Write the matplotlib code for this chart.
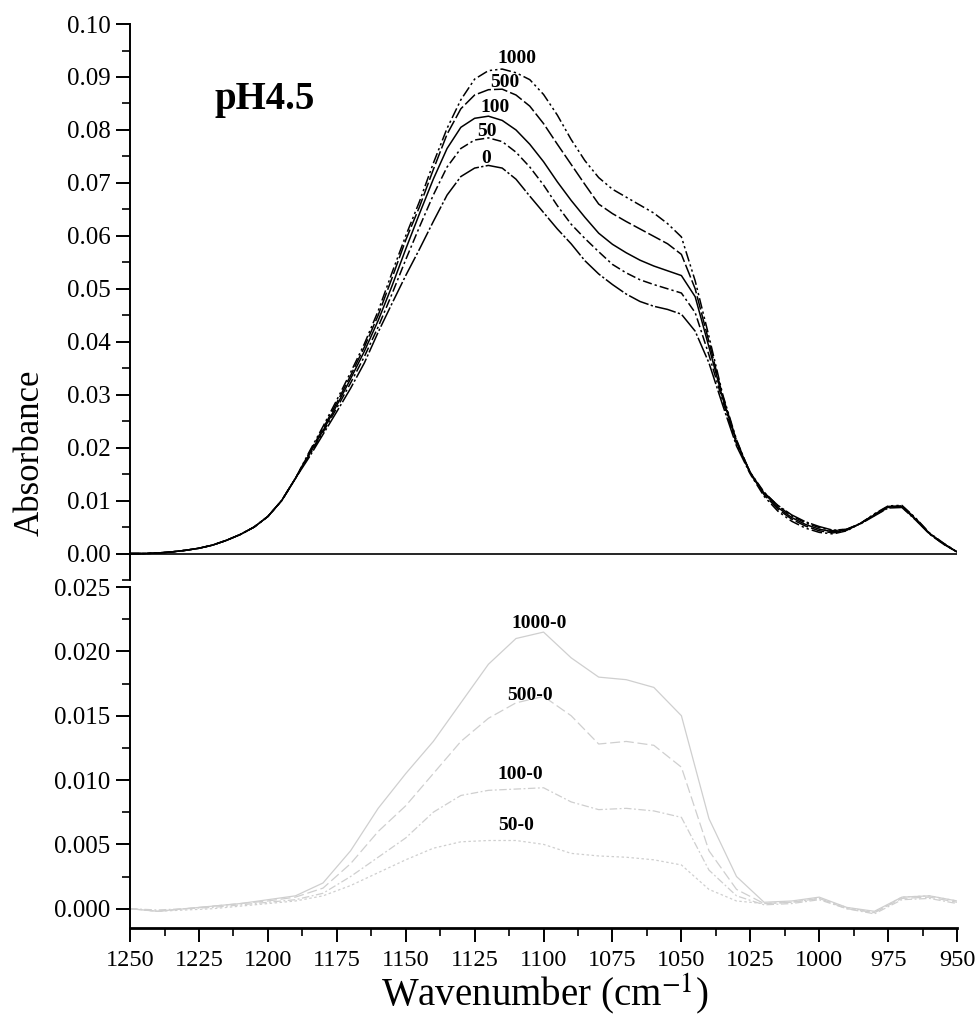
import matplotlib
matplotlib.use("Agg")
import matplotlib.pyplot as plt
from matplotlib.ticker import MultipleLocator, FormatStrFormatter

plt.rcParams['font.family'] = ['Liberation Serif', 'DejaVu Serif']
plt.rcParams['mathtext.fontset'] = 'stix'

# wavenumber grid of the absorbance spectra (cm-1)
wn = [1250, 1245, 1240, 1235, 1230, 1225, 1220, 1215, 1210, 1205, 1200, 1195,
      1190, 1185, 1180, 1175, 1170, 1165, 1160, 1155, 1150, 1145, 1140, 1135,
      1130, 1125, 1120, 1115, 1110, 1105, 1100, 1095, 1090, 1085, 1080, 1075,
      1070, 1065, 1060, 1055, 1050, 1045, 1040, 1035, 1030, 1025, 1020, 1015,
      1010, 1005, 1000, 995, 990, 985, 980, 975, 970, 965, 960, 955, 950]

low_edge = [0.0000, 0.0000, 0.0001, 0.0003, 0.0006, 0.0010, 0.0016, 0.0025,
            0.0036, 0.0050, 0.0070, 0.0100, 0.0142]

abs_1000 = low_edge + [0.0192, 0.0240, 0.0290, 0.0342, 0.0396, 0.0458, 0.0530, 0.0600, 0.0665, 0.0737, 0.0803,
                       0.0857, 0.0896, 0.0912, 0.0915, 0.0908, 0.0895, 0.0867, 0.0828, 0.0782, 0.0742, 0.0710, 0.0688,
                       0.0673, 0.0658, 0.0643, 0.0623, 0.0598, 0.0515, 0.0410, 0.0300, 0.0215, 0.0150, 0.0108, 0.0080,
                       0.0061, 0.0048, 0.0040, 0.0037, 0.0043, 0.0057, 0.0075, 0.0090, 0.0091, 0.0067, 0.0039, 0.0020, 0.0003]
abs_500 = low_edge + [0.0190, 0.0236, 0.0285, 0.0336, 0.0390, 0.0450, 0.0520, 0.0592, 0.0655, 0.0725, 0.0792,
                      0.0840, 0.0866, 0.0876, 0.0877, 0.0866, 0.0845, 0.0812, 0.0773, 0.0735, 0.0697, 0.0660, 0.0642,
                      0.0627, 0.0613, 0.0599, 0.0585, 0.0565, 0.0500, 0.0400, 0.0297, 0.0213, 0.0152, 0.0111, 0.0084,
                      0.0065, 0.0052, 0.0043, 0.0039, 0.0044, 0.0057, 0.0074, 0.0089, 0.0090, 0.0066, 0.0038, 0.0019, 0.0003]
abs_100 = low_edge + [0.0187, 0.0232, 0.0280, 0.0330, 0.0382, 0.0440, 0.0505, 0.0575, 0.0642, 0.0707, 0.0765,
                      0.0805, 0.0822, 0.0826, 0.0818, 0.0800, 0.0773, 0.0740, 0.0702, 0.0667, 0.0635, 0.0605, 0.0584,
                      0.0568, 0.0554, 0.0543, 0.0534, 0.0525, 0.0485, 0.0390, 0.0293, 0.0210, 0.0153, 0.0114, 0.0087,
                      0.0068, 0.0055, 0.0046, 0.0041, 0.0045, 0.0057, 0.0073, 0.0088, 0.0089, 0.0065, 0.0038, 0.0019, 0.0003]
abs_50 = low_edge + [0.0185, 0.0229, 0.0275, 0.0322, 0.0372, 0.0428, 0.0490, 0.0555, 0.0617, 0.0677, 0.0730,
                     0.0765, 0.0781, 0.0785, 0.0778, 0.0758, 0.0730, 0.0696, 0.0657, 0.0622, 0.0595, 0.0570, 0.0546,
                     0.0530, 0.0517, 0.0508, 0.0500, 0.0492, 0.0455, 0.0375, 0.0288, 0.0207, 0.0153, 0.0116, 0.0090,
                     0.0071, 0.0058, 0.0049, 0.0043, 0.0046, 0.0057, 0.0072, 0.0087, 0.0088, 0.0064, 0.0037, 0.0018, 0.0003]
abs_0 = low_edge + [0.0182, 0.0225, 0.0268, 0.0312, 0.0360, 0.0418, 0.0472, 0.0525, 0.0575, 0.0627, 0.0677,
                    0.0712, 0.0728, 0.0733, 0.0728, 0.0707, 0.0675, 0.0644, 0.0613, 0.0585, 0.0553, 0.0528, 0.0508,
                    0.0490, 0.0476, 0.0467, 0.0461, 0.0452, 0.0420, 0.0360, 0.0280, 0.0203, 0.0150, 0.0115, 0.0091,
                    0.0073, 0.0060, 0.0051, 0.0044, 0.0046, 0.0056, 0.0071, 0.0086, 0.0087, 0.0063, 0.0037, 0.0018, 0.0003]

baseline_wn = [1250, 950]
baseline = [0.0, 0.0]

# difference spectra, coarser grid
wn_diff = [1250, 1240, 1230, 1220, 1210, 1200, 1190, 1180, 1170, 1160, 1150,
           1140, 1130, 1120, 1110, 1100, 1090, 1080, 1070, 1060, 1050, 1040,
           1030, 1020, 1010, 1000, 990, 980, 970, 960, 950]
diff_1000 = [0.0000, -0.0002, 0.0000, 0.0002, 0.0004, 0.0007, 0.0010, 0.0020, 0.0045, 0.0078, 0.0105,
             0.0130, 0.0160, 0.0190, 0.0210, 0.0215, 0.0195, 0.0180, 0.0178, 0.0172, 0.0150, 0.0070,
             0.0025, 0.0005, 0.0006, 0.0009, 0.0001, -0.0002, 0.0009, 0.0010, 0.0006]
diff_500 = [0.0000, -0.0002, 0.0000, 0.0002, 0.0004, 0.0006, 0.0009, 0.0016, 0.0035, 0.0060, 0.0080,
            0.0105, 0.0130, 0.0148, 0.0160, 0.0165, 0.0150, 0.0128, 0.0130, 0.0127, 0.0110, 0.0045,
            0.0015, 0.0004, 0.0005, 0.0008, 0.0000, -0.0003, 0.0008, 0.0009, 0.0005]
diff_100 = [0.0000, -0.0001, 0.0000, 0.0001, 0.0003, 0.0005, 0.0007, 0.0012, 0.0025, 0.0040, 0.0055,
            0.0075, 0.0088, 0.0092, 0.0093, 0.0094, 0.0083, 0.0077, 0.0078, 0.0076, 0.0071, 0.0030,
            0.0010, 0.0003, 0.0004, 0.0007, 0.0000, -0.0004, 0.0007, 0.0008, 0.0004]
diff_50 = [0.0000, -0.0002, -0.0001, 0.0000, 0.0002, 0.0004, 0.0006, 0.0010, 0.0018, 0.0028, 0.0038,
           0.0047, 0.0052, 0.0053, 0.0053, 0.0050, 0.0043, 0.0041, 0.0040, 0.0038, 0.0034, 0.0015,
           0.0006, 0.0004, 0.0005, 0.0008, 0.0001, -0.0003, 0.0009, 0.0010, 0.0006]

top_labels = ['1000', '500', '100', '50', '0']
top_label_wn = [1109.5, 1114, 1117.5, 1120.5, 1121]
top_label_y = [0.0935, 0.0890, 0.0842, 0.0797, 0.0747]

diff_labels = ['1000-0', '500-0', '100-0', '50-0']
diff_label_wn = [1101.5, 1105, 1108.5, 1110]
diff_label_y = [0.0222, 0.0166, 0.0104, 0.0065]

fig = plt.figure(figsize=(9.8, 10.19), dpi=100)
ax1 = fig.add_axes([0.1327, 0.4308, 0.8439, 0.5456])
ax2 = fig.add_axes([0.1327, 0.0893, 0.8439, 0.3346])

# top panel: absorbance spectra
styles = {
    '1000': (0, (7, 2, 1.5, 2, 1.5, 2)),
    '500': (0, (9, 2)),
    '100': '-',
    '50': (0, (6, 2, 1.5, 2)),
    '0': (0, (14, 1.5, 1.5, 1.5)),
}
series = [abs_1000, abs_500, abs_100, abs_50, abs_0]
for name, vals in zip(top_labels, series):
    ax1.plot(wn, vals, color='black', lw=1.1, linestyle=styles[name])
ax1.plot(baseline_wn, baseline, color='black', lw=1.2)

for txt, x, y in zip(top_labels, top_label_wn, top_label_y):
    ax1.text(x, y, txt, ha='center', va='center', fontsize=14, fontweight='bold')
ax1.text(1201, 0.0858, 'pH4.5', ha='center', va='center', fontsize=28, fontweight='bold')

ax1.set_xlim(1250, 950)
ax1.set_ylim(-0.005, 0.10)
ax1.yaxis.set_major_locator(MultipleLocator(0.01))
ax1.yaxis.set_minor_locator(MultipleLocator(0.005))
ax1.yaxis.set_major_formatter(FormatStrFormatter('%.2f'))
for s in ['top', 'right', 'bottom']:
    ax1.spines[s].set_visible(False)
ax1.spines['left'].set_linewidth(1.4)
ax1.tick_params(axis='x', bottom=False, labelbottom=False)
ax1.tick_params(axis='y', which='major', direction='out', length=10, width=1.4, labelsize=18, pad=4)
ax1.tick_params(axis='y', which='minor', direction='out', length=6, width=1.2)

# bottom panel: difference spectra (faint in the scan)
diff_series = [diff_1000, diff_500, diff_100, diff_50]
diff_styles = ['-', (0, (8, 3)), (0, (6, 2, 1.5, 2)), (0, (2, 2))]
for vals, ls in zip(diff_series, diff_styles):
    ax2.plot(wn_diff, vals, color='#cfcfcf', lw=0.9, linestyle=ls)

for txt, x, y in zip(diff_labels, diff_label_wn, diff_label_y):
    ax2.text(x, y, txt, ha='center', va='center', fontsize=14, fontweight='bold')

ax2.set_xlim(1250, 950)
ax2.set_ylim(-0.0015, 0.025)
ax2.xaxis.set_major_locator(MultipleLocator(25))
ax2.xaxis.set_minor_locator(MultipleLocator(12.5))
ax2.yaxis.set_major_locator(MultipleLocator(0.005))
ax2.yaxis.set_minor_locator(MultipleLocator(0.0025))
ax2.yaxis.set_major_formatter(FormatStrFormatter('%.3f'))
for s in ['top', 'right']:
    ax2.spines[s].set_visible(False)
ax2.spines['left'].set_linewidth(1.4)
ax2.spines['bottom'].set_linewidth(2.0)
ax2.tick_params(which='major', direction='out', length=10, width=1.4, labelsize=18, pad=4)
ax2.tick_params(which='minor', direction='out', length=6, width=1.2)
ax2.tick_params(axis='x', which='major', labelsize=17.5, pad=6)

fig.text(0.031, 0.556, 'Absorbance', rotation=90, ha='center', va='center', fontsize=25)
fig.text(0.556, 0.024, 'Wavenumber (cm$^{-1}$)', ha='center', va='center', fontsize=28)

fig.savefig('out.png', dpi=100, facecolor='white')
